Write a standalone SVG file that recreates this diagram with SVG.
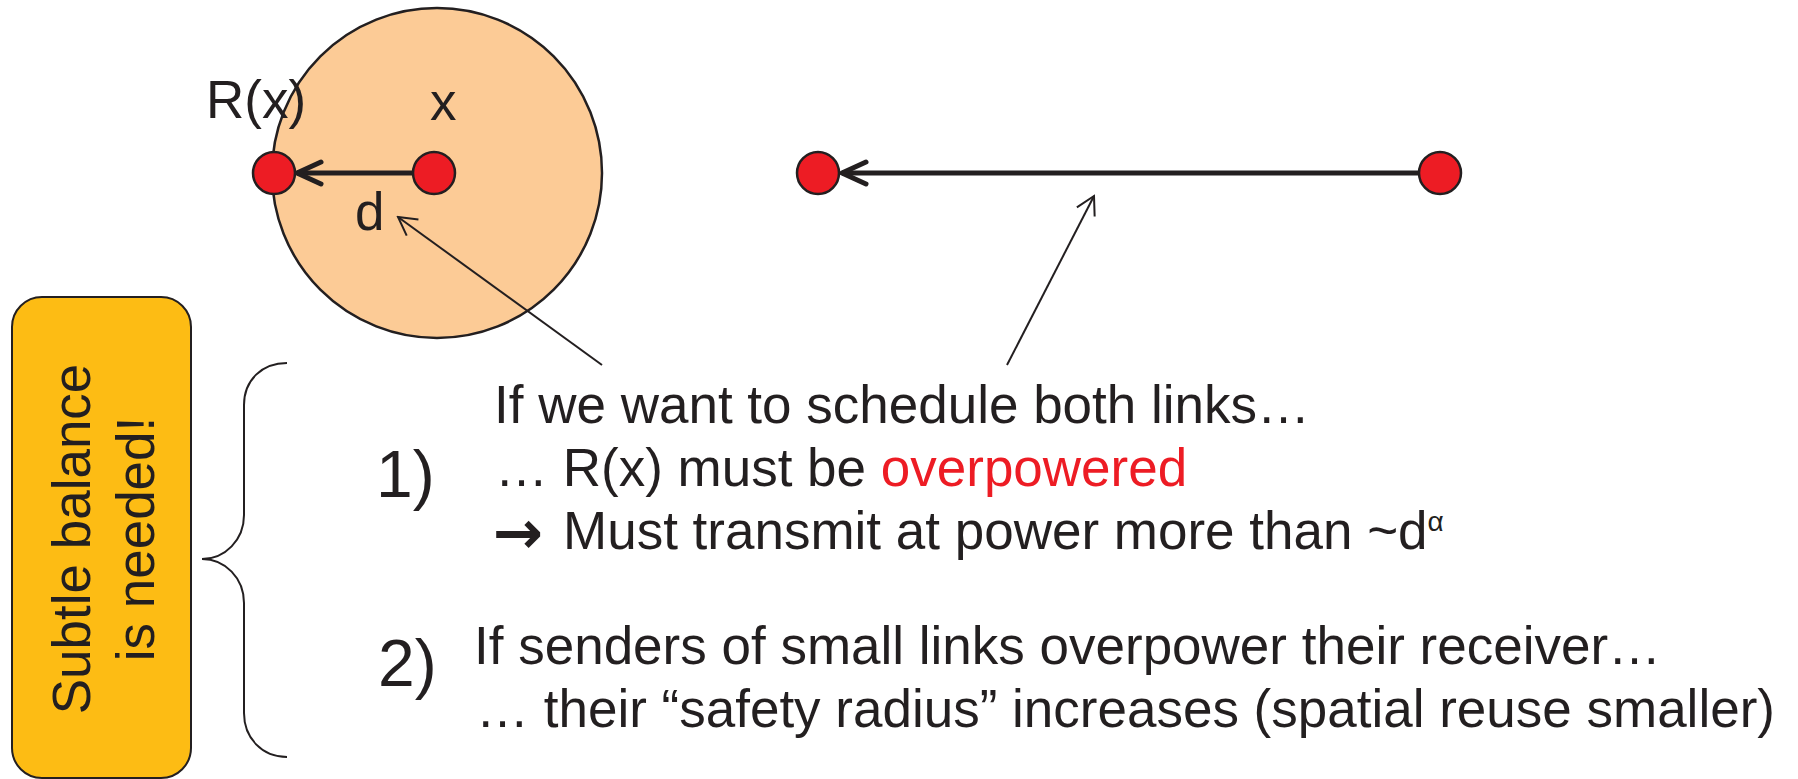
<svg xmlns="http://www.w3.org/2000/svg" width="1798" height="779" viewBox="0 0 1798 779">
<style>
text{font-family:"Liberation Sans",Arial,sans-serif;fill:#231F20;font-size:53px}
.red{fill:#ED1C24}
.dot{fill:#ED1C24;stroke:#231F20;stroke-width:2.5}
.thick{stroke:#231F20;stroke-width:5;fill:none}
.thin{stroke:#231F20;stroke-width:2;fill:none}
.num{font-size:66px}
.arr{font-family:"DejaVu Sans",sans-serif;font-size:60px;font-weight:bold}
</style>
<defs>
<marker id="chev" markerUnits="userSpaceOnUse" viewBox="-30 -15 34 30" refX="0" refY="0" markerWidth="34" markerHeight="30" orient="auto">
<path d="M-24,-11 L0,0 L-24,11" fill="none" stroke="#231F20" stroke-width="5" stroke-linecap="round" stroke-linejoin="round"/>
</marker>
<marker id="open" markerUnits="userSpaceOnUse" viewBox="-22 -12 24 24" refX="0" refY="0" markerWidth="24" markerHeight="24" orient="auto">
<path d="M-18,-10 L0,0 L-18,10" fill="none" stroke="#231F20" stroke-width="2"/>
</marker>
</defs>

<g id="range-circle">
<circle cx="437" cy="173" r="165" fill="#FCCB96" stroke="#231F20" stroke-width="2.5"/>
</g>

<g id="connectors">
<line class="thick" x1="413" y1="173" x2="297" y2="173" marker-end="url(#chev)"/>
<line class="thick" x1="1419" y1="173" x2="842" y2="173" marker-end="url(#chev)"/>
<line class="thin" x1="602" y1="365" x2="398" y2="217" marker-end="url(#open)"/>
<line class="thin" x1="1007" y1="365" x2="1094" y2="196" marker-end="url(#open)"/>
</g>

<g id="node-rx"><circle class="dot" cx="274" cy="173" r="21"/></g>
<g id="node-x"><circle class="dot" cx="434" cy="173" r="21"/></g>
<g id="node-left"><circle class="dot" cx="818" cy="173" r="21"/></g>
<g id="node-right"><circle class="dot" cx="1440" cy="173" r="21"/></g>

<g id="labels">
<text x="206" y="118">R(x)</text>
<text x="430" y="120">x</text>
<text x="355" y="230">d</text>
</g>

<g id="balance-box">
<rect x="12" y="297" width="179" height="481" rx="30" ry="30" fill="#FDBC14" stroke="#231F20" stroke-width="2"/>
<text transform="translate(90,539) rotate(-90)" text-anchor="middle">Subtle balance</text>
<text transform="translate(154,539) rotate(-90)" text-anchor="middle">is needed!</text>
</g>

<g id="brace">
<path class="thin" stroke-width="2.5" d="M287,363 C262,363 244,380 244,405 L244,515 C244,540 225,559 202,559 C225,559 244,578 244,603 L244,713 C244,738 262,757 287,757"/>
</g>

<g id="point1">
<text class="num" x="376" y="497">1)</text>
<text x="494" y="423">If we want to schedule both links…</text>
<text x="495" y="486">… R(x) must be <tspan class="red">overpowered</tspan></text>
<text class="arr" x="493" y="553">→</text>
<text x="563" y="549">Must transmit at power more than ~d<tspan font-size="28" dy="-18">α</tspan></text>
</g>

<g id="point2">
<text class="num" x="378" y="686">2)</text>
<text x="474" y="664">If senders of small links overpower their receiver…</text>
<text x="476" y="727">… their “safety radius” increases (spatial reuse smaller)</text>
</g>
</svg>
